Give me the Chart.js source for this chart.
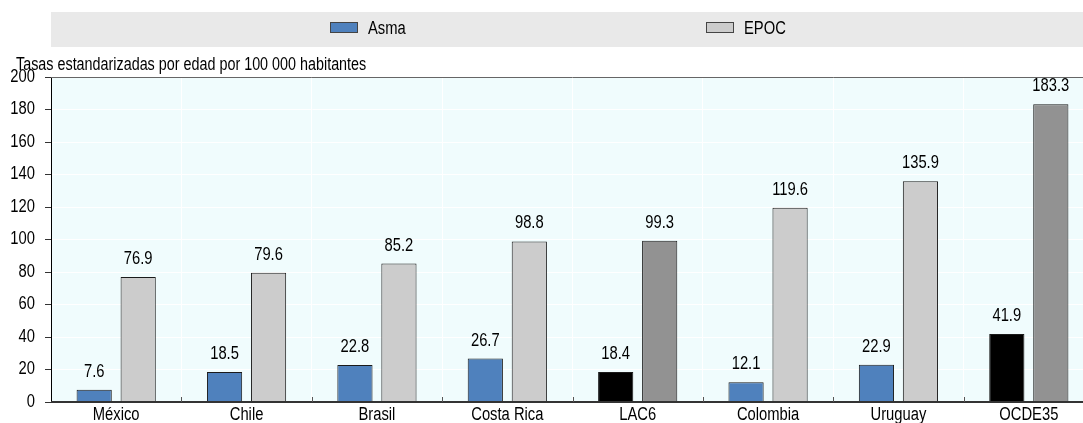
<!DOCTYPE html>
<html>
<head>
<meta charset="utf-8">
<script src="https://cdn.jsdelivr.net/npm/chart.js@4"></script>
<style>
  html, body { margin: 0; padding: 0; background: #fff; overflow: hidden; }
  #wrap { width: 1100px; height: 423px; position: relative; }
</style>
</head>
<body>
<div id="wrap"><canvas id="chart"></canvas></div>
<script>
// Datos
const paises = ['México', 'Chile', 'Brasil', 'Costa Rica', 'LAC6', 'Colombia', 'Uruguay', 'OCDE35'];
const asma = [7.6, 18.5, 22.8, 26.7, 18.4, 12.1, 22.9, 41.9];
const epoc = [76.9, 79.6, 85.2, 98.8, 99.3, 119.6, 135.9, 183.3];
const ticksY = [0, 20, 40, 60, 80, 100, 120, 140, 160, 180, 200];
const promedios = ['LAC6', 'OCDE35'];

const tituloY = 'Tasas estandarizadas por edad por 100 000 habitantes';
const familia = '"Liberation Sans", Arial, sans-serif';
const estrecho = 0.82; // imita Arial Narrow

const azul = '#4f81bd';
const grisClaro = '#cccccc';
const negro = '#000000';
const grisOscuro = '#929292';

const coloresAsma = paises.map(p => promedios.includes(p) ? negro : azul);
const coloresEpoc = paises.map(p => promedios.includes(p) ? grisOscuro : grisClaro);

// texto comprimido horizontalmente
function texto(ctx, txt, x, y, align, base, size) {
    ctx.save();
    ctx.translate(x, y);
    ctx.scale(estrecho, 1);
    ctx.font = (size || 18) + 'px ' + familia;
    ctx.fillStyle = '#000';
    ctx.textAlign = align;
    ctx.textBaseline = base;
    ctx.fillText(txt, 0, 0);
    ctx.restore();
}

// fondo, leyenda, titulo, etiquetas y marcas del eje x
const decoracion = {
    id: 'decoracion',
    beforeDraw(chart) {
        const { ctx, chartArea } = chart;
        ctx.save();
        ctx.fillStyle = '#f0fcfd';
        ctx.fillRect(chartArea.left, chartArea.top, chartArea.right - chartArea.left, chartArea.bottom - chartArea.top);

        // banda de la leyenda
        ctx.fillStyle = '#e9e9e9';
        ctx.fillRect(51, 12, 1100, 35);
        const items = [
            { txt: chart.data.datasets[0].label, color: azul, x: 330 },
            { txt: chart.data.datasets[1].label, color: grisClaro, x: 706 }
        ];
        items.forEach(it => {
            ctx.fillStyle = it.color;
            ctx.fillRect(it.x, 22, 27, 10);
            ctx.strokeStyle = '#444';
            ctx.lineWidth = 1;
            ctx.strokeRect(it.x + 0.5, 22.5, 27, 10);
            texto(ctx, it.txt, it.x + 38, 34, 'left', 'alphabetic');
        });
        ctx.restore();

        texto(ctx, tituloY, 16, 70, 'left', 'alphabetic', 17.5);
    },
    afterDatasetsDraw(chart) {
        const { ctx, chartArea } = chart;
        ctx.save();
        // borde superior
        ctx.strokeStyle = '#666';
        ctx.lineWidth = 1;
        ctx.beginPath();
        ctx.moveTo(chartArea.left, chartArea.top + 0.5);
        ctx.lineTo(chartArea.right, chartArea.top + 0.5);
        ctx.stroke();
        // eje x
        ctx.strokeStyle = '#333';
        ctx.lineWidth = 2;
        ctx.beginPath();
        ctx.moveTo(chartArea.left, chartArea.bottom);
        ctx.lineTo(chartArea.right, chartArea.bottom);
        ctx.stroke();
        // marcas entre categorias
        const xs = chart.scales.x;
        ctx.lineWidth = 1;
        ctx.strokeStyle = '#555';
        for (let i = 0; i < paises.length - 1; i++) {
            const px = Math.round((xs.getPixelForTick(i) + xs.getPixelForTick(i + 1)) / 2) + 0.5;
            ctx.beginPath();
            ctx.moveTo(px, chartArea.bottom);
            ctx.lineTo(px, chartArea.bottom - 5);
            ctx.stroke();
        }
        ctx.restore();

        // etiquetas de los ejes
        paises.forEach((p, i) => texto(ctx, p, xs.getPixelForTick(i), 415, 'center', 'middle'));
        const ys = chart.scales.y;
        ticksY.forEach(v => texto(ctx, String(v), 35, ys.getPixelForValue(v), 'right', 'middle'));

        // etiquetas de valores
        chart.data.datasets.forEach((ds, i) => {
            chart.getDatasetMeta(i).data.forEach((bar, j) => {
                texto(ctx, ds.data[j].toFixed(1), bar.x, bar.y - 13, 'center', 'alphabetic');
            });
        });
    }
};

new Chart(document.getElementById('chart'), {
    type: 'bar',
    data: {
        labels: paises,
        datasets: [
            {
                label: 'Asma',
                data: asma,
                backgroundColor: coloresAsma,
                borderColor: '#1a1a1a',
                borderWidth: 1,
                borderSkipped: 'bottom'
            },
            {
                label: 'EPOC',
                data: epoc,
                backgroundColor: coloresEpoc,
                borderColor: '#1a1a1a',
                borderWidth: 1,
                borderSkipped: 'bottom'
            }
        ]
    },
    options: {
        responsive: true,
        maintainAspectRatio: false,
        animation: false,
        categoryPercentage: 0.675,
        barPercentage: 0.8,
        layout: { padding: { left: 0, top: 77, right: 6, bottom: 0 } },
        plugins: {
            legend: { display: false },
            tooltip: { enabled: false }
        },
        scales: {
            x: {
                grid: { display: true, color: '#ffffff', drawTicks: false, offset: true },
                border: { display: false },
                ticks: { display: false },
                afterFit(scale) { scale.height = 21; }
            },
            y: {
                min: 0,
                max: 200,
                afterBuildTicks(scale) { scale.ticks = ticksY.map(v => ({ value: v })); },
                grid: { color: '#ffffff', tickColor: '#333', tickLength: 6 },
                border: { display: true, color: '#000', width: 1 },
                ticks: { display: false },
                afterFit(scale) { scale.width = 51; }
            }
        }
    },
    plugins: [decoracion]
});
</script>
</body>
</html>
